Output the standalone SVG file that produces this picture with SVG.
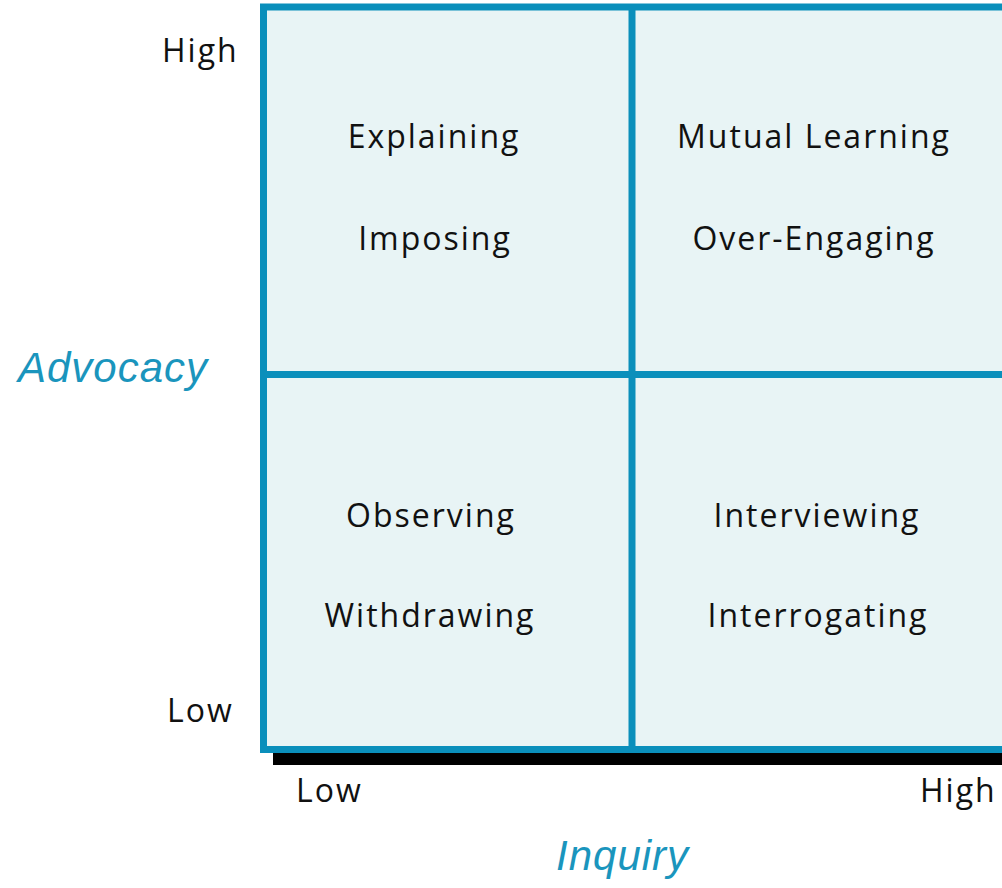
<svg xmlns="http://www.w3.org/2000/svg" width="1002" height="888" viewBox="0 0 1002 888">
<style>
.lbl{font-family:"Open Sans","DejaVu Sans",sans-serif;font-size:32px;letter-spacing:2px;fill:#111;text-anchor:middle}
.ax{font-family:"Open Sans","DejaVu Sans",sans-serif;font-size:32px;letter-spacing:2px;fill:#111}
.axt{font-family:"Liberation Sans",Arial,sans-serif;font-style:italic;font-size:42px;letter-spacing:1px;fill:#1a95bd}
.cell{fill:#e8f4f5}
.grid{stroke:#0a8fbb;stroke-width:7;fill:none}
</style>
<rect x="0" y="0" width="1002" height="888" fill="#ffffff"/>
<rect x="273" y="752" width="729" height="13" fill="#000"/>
<g id="q-tl"><rect class="cell" x="263" y="7" width="369" height="367"/><text class="lbl" x="434" y="148">Explaining</text><text class="lbl" x="435" y="250">Imposing</text></g>
<g id="q-tr"><rect class="cell" x="632" y="7" width="370" height="367"/><text class="lbl" x="814" y="148">Mutual Learning</text><text class="lbl" x="814" y="250">Over-Engaging</text></g>
<g id="q-bl"><rect class="cell" x="263" y="374" width="369" height="376"/><text class="lbl" x="431" y="527">Observing</text><text class="lbl" x="430" y="627">Withdrawing</text></g>
<g id="q-br"><rect class="cell" x="632" y="374" width="370" height="376"/><text class="lbl" x="817" y="527">Interviewing</text><text class="lbl" x="818" y="627">Interrogating</text></g>
<g id="connectors">
<path class="grid" d="M1010 7 H263.5 V749.5 H1010"/>
<line class="grid" x1="632" y1="7" x2="632" y2="749"/>
<line class="grid" x1="263" y1="374.5" x2="1002" y2="374.5"/>
</g>
<g id="axis-labels">
<text class="ax" x="162" y="62">High</text>
<text class="ax" x="167" y="722">Low</text>
<text class="axt" x="18" y="382">Advocacy</text>
<text class="ax" x="296" y="802">Low</text>
<text class="ax" x="920" y="802">High</text>
<text class="axt" x="556" y="870">Inquiry</text>
</g>
</svg>
